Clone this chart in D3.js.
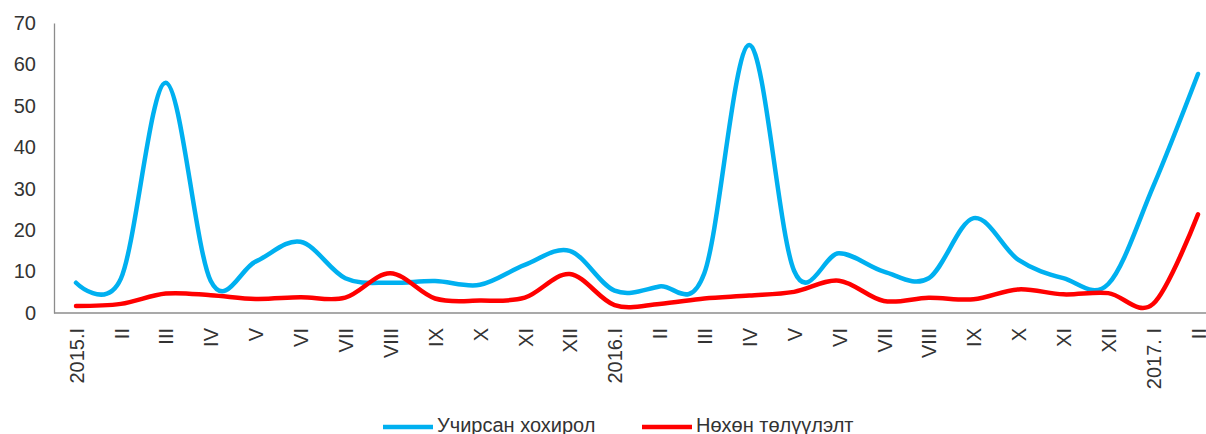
<!DOCTYPE html>
<html>
<head>
<meta charset="utf-8">
<script src="https://cdn.jsdelivr.net/npm/d3@7"></script>
<style>
  body { margin: 0; background: #fff; }
  svg text { font-family: "Liberation Sans", Arial, sans-serif; fill: #333; }
</style>
</head>
<body>
<svg id="chart"></svg>
<script>
// месяцууд
const categories = ['2015.I', 'II', 'III', 'IV', 'V', 'VI', 'VII', 'VIII', 'IX', 'X', 'XI', 'XII',
  '2016.I', 'II ', 'III ', 'IV ', 'V ', 'VI ', 'VII ', 'VIII ', 'IX ', 'X ', 'XI ', 'XII ',
  '2017. I', 'II  '];

const damage = [7.3, 8.3, 55.6, 7.8, 12.4, 17.2, 8.4, 7.3, 7.7, 6.8, 11.6, 15.0,
  5.4, 6.4, 9.6, 64.7, 10.2, 14.4, 10.0, 8.4, 22.9, 12.8, 8.4, 7.0, 30.5, 57.7];

const repaid = [1.7, 2.2, 4.7, 4.3, 3.4, 3.8, 3.7, 9.6, 3.5, 3.0, 3.7, 9.4,
  1.9, 2.2, 3.5, 4.2, 5.1, 7.8, 2.9, 3.7, 3.3, 5.7, 4.5, 4.8, 2.2, 23.8];

const yTicks = [0, 10, 20, 30, 40, 50, 60, 70];

const seriesNames = ['Учирсан хохирол', 'Нөхөн төлүүлэлт'];
const seriesColors = ['#00b0f0', '#ff0000'];

const width = 1206, height = 434;
const margin = {top: 23, right: 0, bottom: 121, left: 54};

const svg = d3.select('#chart')
  .attr('width', width)
  .attr('height', height);

const xScale = d3.scalePoint()
  .domain(categories)
  .range([76, 1198]);

const yScale = d3.scaleLinear()
  .domain([0, 70])
  .range([height - margin.bottom, margin.top]);

// y тэнхлэг
const yAxisG = svg.append('g')
  .attr('transform', `translate(${margin.left},0)`)
  .call(d3.axisLeft(yScale).tickValues(yTicks).tickSize(0).tickPadding(18));
yAxisG.select('.domain').attr('stroke', '#8c8c8c').attr('stroke-width', 1.3);
yAxisG.selectAll('text')
  .style('font-size', '20px')
  .attr('fill', '#2b2b2b');

// x тэнхлэг
const xAxisG = svg.append('g')
  .attr('transform', `translate(0,${yScale(0)})`)
  .call(d3.axisBottom(xScale).tickSize(0).tickFormat(d => d.trim()));
xAxisG.select('.domain')
  .attr('d', `M${margin.left},0H${width}`)
  .attr('stroke', '#8c8c8c').attr('stroke-width', 1.3);
xAxisG.selectAll('text')
  .style('font-size', '20px')
  .attr('fill', '#2b2b2b')
  .attr('text-anchor', 'end')
  .attr('transform', 'rotate(-90)')
  .attr('x', -15)
  .attr('y', 0)
  .attr('dy', '0.36em');

const line = d3.line()
  .x((d, i) => xScale(categories[i]))
  .y(d => yScale(d))
  .curve(d3.curveCardinal.tension(0));

[damage, repaid].forEach((vals, i) => {
  svg.append('path')
    .datum(vals)
    .attr('fill', 'none')
    .attr('stroke', seriesColors[i])
    .attr('stroke-width', 4.5)
    .attr('stroke-linejoin', 'round')
    .attr('stroke-linecap', 'round')
    .attr('d', line);
});

// тайлбар
const legendX = [383, 642];
const legend = svg.append('g');
seriesNames.forEach((name, i) => {
  legend.append('line')
    .attr('x1', legendX[i]).attr('x2', legendX[i] + 50)
    .attr('y1', 427).attr('y2', 427)
    .attr('stroke', seriesColors[i])
    .attr('stroke-width', 4.5);
  legend.append('text')
    .attr('x', legendX[i] + 54)
    .attr('y', 432)
    .style('font-size', '20px')
    .attr('fill', '#2b2b2b')
    .text(name);
});
</script>
</body>
</html>
